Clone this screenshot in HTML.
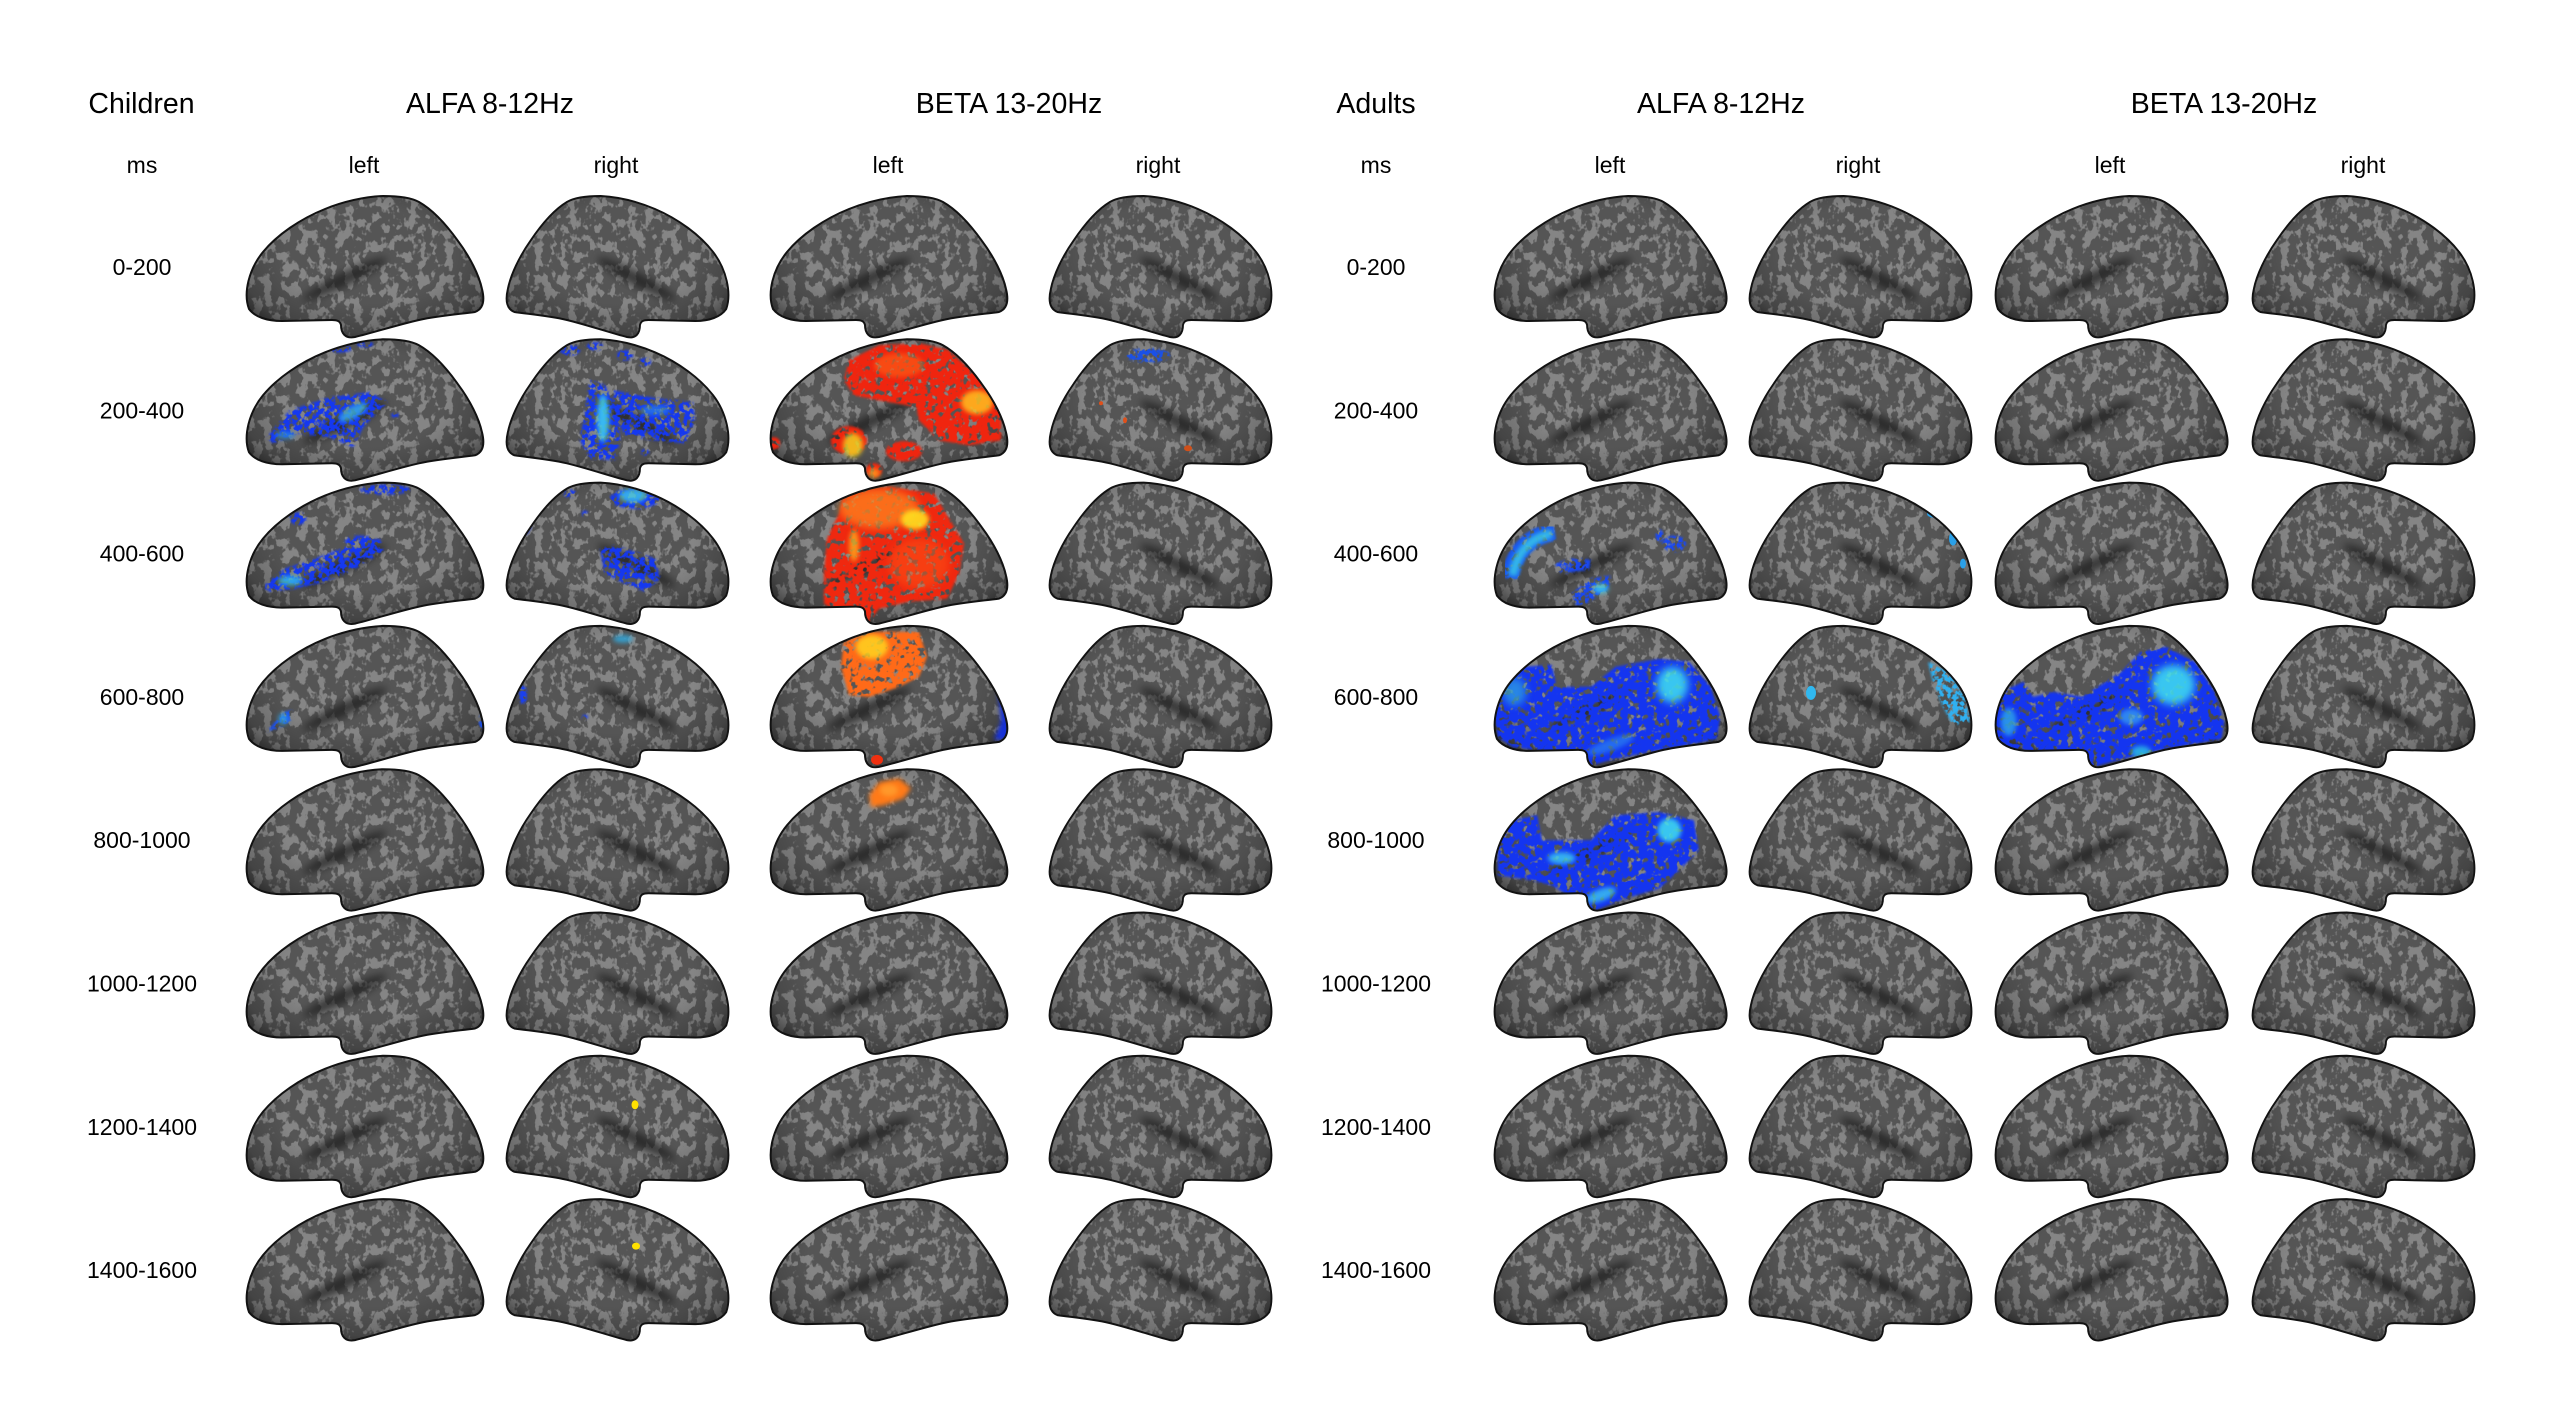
<!DOCTYPE html>
<html>
<head>
<meta charset="utf-8">
<style>
html,body{margin:0;padding:0;background:#fff;}
svg{display:block;}
text{font-family:"Liberation Sans",Arial,sans-serif;fill:#000;}
.h{font-size:28.5px;}
.s{font-size:23px;}
filter{color-interpolation-filters:sRGB;}
</style>
</head>
<body>
<svg width="2560" height="1401" viewBox="0 0 2560 1401" xmlns="http://www.w3.org/2000/svg">
<rect width="2560" height="1401" fill="#fff"/>
<defs>
  <path id="bp" d="M4,112 C-2,96 4,72 18,55 C32,38 55,22 80,12 C100,4 118,0 138,-1 C152,-1 165,0 174,5 C190,14 203,30 213,44 C225,60 234,78 237,92 C240,104 238,112 230,115 C217,117 197,118 174,123 C152,128 127,136 110,140 C100,142 96,136 96,128 C95,124 92,123 87,123 L37,124 C22,124 10,120 4,112 Z"/>
  <clipPath id="cL"><use href="#bp"/></clipPath>
  <clipPath id="cR"><use href="#bp" transform="translate(225,0) scale(-0.9375,1)"/></clipPath>
  <radialGradient id="shade" cx="0.5" cy="0.42" r="0.62">
    <stop offset="0.55" stop-color="#000" stop-opacity="0"/>
    <stop offset="0.88" stop-color="#000" stop-opacity="0.2"/>
    <stop offset="1" stop-color="#000" stop-opacity="0.45"/>
  </radialGradient>
  <filter id="tex" x="-5%" y="-5%" width="110%" height="110%" color-interpolation-filters="sRGB">
    <feTurbulence type="fractalNoise" baseFrequency="0.11 0.09" numOctaves="3" seed="4" result="t"/>
    <feColorMatrix in="t" type="matrix" values="0 0 0 0 0.52  0 0 0 0 0.52  0 0 0 0 0.52  12 0 0 0 -6.1" result="light"/>
    <feComposite in="light" in2="SourceAlpha" operator="in" result="li"/>
    <feMerge><feMergeNode in="SourceGraphic"/><feMergeNode in="li"/></feMerge>
  </filter>
  <filter id="bl4" x="-50%" y="-50%" width="200%" height="200%" color-interpolation-filters="sRGB"><feGaussianBlur stdDeviation="4"/></filter>
  <filter id="bl2" x="-50%" y="-50%" width="200%" height="200%" color-interpolation-filters="sRGB"><feGaussianBlur stdDeviation="2.5"/></filter>
  <filter id="sp" x="-10%" y="-10%" width="120%" height="120%" color-interpolation-filters="sRGB">
    <feGaussianBlur in="SourceGraphic" stdDeviation="1.2" result="b"/>
    <feTurbulence type="fractalNoise" baseFrequency="0.2" numOctaves="2" seed="7" result="t"/>
    <feColorMatrix in="t" type="matrix" values="0 0 0 0 0  0 0 0 0 0  0 0 0 0 0  7 0 0 0 -2.9" result="m"/>
    <feComposite in="b" in2="m" operator="in"/>
  </filter>
  <filter id="sp2" x="-10%" y="-10%" width="120%" height="120%" color-interpolation-filters="sRGB">
    <feGaussianBlur in="SourceGraphic" stdDeviation="1.2" result="b"/>
    <feTurbulence type="fractalNoise" baseFrequency="0.16" numOctaves="2" seed="11" result="t"/>
    <feColorMatrix in="t" type="matrix" values="0 0 0 0 0  0 0 0 0 0  0 0 0 0 0  7 0 0 0 -2.2" result="m"/>
    <feComposite in="b" in2="m" operator="in"/>
  </filter>
  <g id="Lb">
    <use href="#bp" fill="#555555" filter="url(#tex)"/>
    <ellipse cx="100" cy="82" rx="46" ry="7" transform="rotate(-26 100 82)" fill="#1a1a1a" opacity="0.7" filter="url(#bl4)"/>
    <use href="#bp" fill="url(#shade)"/>
  </g>
  <g id="Lo"><use href="#bp" fill="none" stroke="#121212" stroke-width="2"/></g>
  <g id="Rb"><use href="#Lb" transform="translate(225,0) scale(-0.9375,1)"/></g>
  <g id="Ro"><use href="#Lo" transform="translate(225,0) scale(-0.9375,1)"/></g>
</defs>

<!-- Headers -->
<text class="h" x="141.5" y="113" text-anchor="middle">Children</text>
<text class="h" x="490" y="113" text-anchor="middle">ALFA 8-12Hz</text>
<text class="h" x="1009" y="113" text-anchor="middle">BETA 13-20Hz</text>
<text class="h" x="1376" y="113" text-anchor="middle">Adults</text>
<text class="h" x="1721" y="113" text-anchor="middle">ALFA 8-12Hz</text>
<text class="h" x="2224" y="113" text-anchor="middle">BETA 13-20Hz</text>

<text class="s" x="142" y="173" text-anchor="middle">ms</text>
<text class="s" x="364" y="173" text-anchor="middle">left</text>
<text class="s" x="616" y="173" text-anchor="middle">right</text>
<text class="s" x="888" y="173" text-anchor="middle">left</text>
<text class="s" x="1158" y="173" text-anchor="middle">right</text>
<text class="s" x="1376" y="173" text-anchor="middle">ms</text>
<text class="s" x="1610" y="173" text-anchor="middle">left</text>
<text class="s" x="1858" y="173" text-anchor="middle">right</text>
<text class="s" x="2110" y="173" text-anchor="middle">left</text>
<text class="s" x="2363" y="173" text-anchor="middle">right</text>

<!-- Row labels -->
<g class="s" text-anchor="middle">
<text class="s" x="142" y="275">0-200</text>
<text class="s" x="142" y="418.3">200-400</text>
<text class="s" x="142" y="561.6">400-600</text>
<text class="s" x="142" y="704.9">600-800</text>
<text class="s" x="142" y="848.2">800-1000</text>
<text class="s" x="142" y="991.5">1000-1200</text>
<text class="s" x="142" y="1134.8">1200-1400</text>
<text class="s" x="142" y="1278.1">1400-1600</text>
<text class="s" x="1376" y="275">0-200</text>
<text class="s" x="1376" y="418.3">200-400</text>
<text class="s" x="1376" y="561.6">400-600</text>
<text class="s" x="1376" y="704.9">600-800</text>
<text class="s" x="1376" y="848.2">800-1000</text>
<text class="s" x="1376" y="991.5">1000-1200</text>
<text class="s" x="1376" y="1134.8">1200-1400</text>
<text class="s" x="1376" y="1278.1">1400-1600</text>
</g>

<!-- ============ CHILDREN ALFA LEFT (x=245) ============ -->
<g transform="translate(245,197)"><use href="#Lb"/><use href="#Lo"/></g>
<g transform="translate(245,340.3)"><use href="#Lb"/>
  <g clip-path="url(#cL)">
    <g filter="url(#sp)" fill="#1538f0">
      <polygon points="22,97 45,70 85,57 125,52 142,62 118,87 108,107 85,97 52,93 28,103"/>
      <ellipse cx="60" cy="12" rx="14" ry="5"/><ellipse cx="95" cy="8" rx="12" ry="4"/><ellipse cx="120" cy="4" rx="8" ry="3"/><ellipse cx="38" cy="30" rx="5" ry="3"/><ellipse cx="150" cy="75" rx="4" ry="2"/>
    </g>
    <ellipse cx="108" cy="72" rx="16" ry="6" transform="rotate(-30 108 72)" fill="#3ab0e0" opacity="0.8" filter="url(#bl2)"/>
    <ellipse cx="40" cy="95" rx="10" ry="4" fill="#2a90e8" opacity=".7" filter="url(#bl2)"/>
  </g><use href="#Lo"/></g>
<g transform="translate(245,483.6)"><use href="#Lb"/>
  <g clip-path="url(#cL)">
    <g filter="url(#sp)" fill="#1538f0">
      <polygon points="18,103 40,85 70,75 110,60 135,55 138,68 110,85 80,98 50,105 25,108"/>
      <ellipse cx="140" cy="6" rx="25" ry="5"/><ellipse cx="53" cy="35" rx="8" ry="6"/><ellipse cx="115" cy="58" rx="15" ry="6"/>
    </g>
    <ellipse cx="45" cy="97" rx="12" ry="5" fill="#35c0e8" opacity=".8" filter="url(#bl2)"/>
  </g><use href="#Lo"/></g>
<g transform="translate(245,626.9)"><use href="#Lb"/>
  <g clip-path="url(#cL)">
    <g filter="url(#sp)" fill="#1a50f0">
      <polygon points="22,105 30,95 40,85 47,83 45,95 35,100"/>
      <ellipse cx="238" cy="95" rx="4" ry="8"/>
    </g>
    <ellipse cx="38" cy="92" rx="5" ry="6" fill="#30a8e8" opacity=".7" filter="url(#bl2)"/>
  </g><use href="#Lo"/></g>
<g transform="translate(245,770.2)"><use href="#Lb"/><use href="#Lo"/></g>
<g transform="translate(245,913.5)"><use href="#Lb"/><use href="#Lo"/></g>
<g transform="translate(245,1056.8)"><use href="#Lb"/><use href="#Lo"/></g>
<g transform="translate(245,1200.1)"><use href="#Lb"/><use href="#Lo"/></g>

<!-- ============ CHILDREN ALFA RIGHT (x=505) ============ -->
<g transform="translate(505,197)"><use href="#Rb"/><use href="#Ro"/></g>
<g transform="translate(505,340.3)"><use href="#Rb"/>
  <g clip-path="url(#cR)">
    <g filter="url(#sp)" fill="#1538f0">
      <polygon points="85,40 100,45 112,70 115,100 110,120 85,118 75,100 80,70"/>
      <polygon points="108,50 150,58 188,62 190,80 180,103 150,100 120,95 110,75"/>
      <ellipse cx="65" cy="10" rx="10" ry="5"/><ellipse cx="90" cy="6" rx="8" ry="4"/><ellipse cx="120" cy="15" rx="8" ry="5"/><ellipse cx="140" cy="22" rx="6" ry="4"/><ellipse cx="20" cy="40" rx="5" ry="6"/><ellipse cx="140" cy="112" rx="4" ry="3"/>
    </g>
    <ellipse cx="98" cy="78" rx="6" ry="24" fill="#40d0f0" opacity=".85" filter="url(#bl2)"/>
    <ellipse cx="150" cy="70" rx="15" ry="5" fill="#3090e0" opacity=".6" filter="url(#bl2)"/>
  </g><use href="#Ro"/></g>
<g transform="translate(505,483.6)"><use href="#Rb"/>
  <g clip-path="url(#cR)">
    <g filter="url(#sp)" fill="#1538f0">
      <ellipse cx="130" cy="15" rx="25" ry="10"/>
      <polygon points="95,65 110,62 150,75 155,95 140,108 120,100 100,90"/>
      <ellipse cx="20" cy="42" rx="6" ry="9"/><ellipse cx="65" cy="10" rx="6" ry="4"/><ellipse cx="80" cy="30" rx="3" ry="3"/>
    </g>
    <ellipse cx="128" cy="12" rx="14" ry="7" fill="#40c8e8" opacity=".8" filter="url(#bl2)"/>
  </g><use href="#Ro"/></g>
<g transform="translate(505,626.9)"><use href="#Rb"/>
  <g clip-path="url(#cR)">
    <g filter="url(#sp)" fill="#1a40f0">
      <ellipse cx="18" cy="68" rx="4" ry="10"/><ellipse cx="80" cy="90" rx="3" ry="2"/><ellipse cx="215" cy="50" rx="4" ry="4"/>
    </g>
    <ellipse cx="118" cy="12" rx="10" ry="4" fill="#30b0e8" opacity=".8" filter="url(#bl2)"/>
  </g><use href="#Ro"/></g>
<g transform="translate(505,770.2)"><use href="#Rb"/><use href="#Ro"/></g>
<g transform="translate(505,913.5)"><use href="#Rb"/><use href="#Ro"/></g>
<g transform="translate(505,1056.8)"><use href="#Rb"/>
  <ellipse cx="130" cy="48" rx="3.5" ry="4.5" fill="#ffe000"/><use href="#Ro"/></g>
<g transform="translate(505,1200.1)"><use href="#Rb"/>
  <ellipse cx="131" cy="46" rx="4" ry="3.5" fill="#ffe000"/><use href="#Ro"/></g>

<!-- ============ CHILDREN BETA LEFT (x=769) ============ -->
<g transform="translate(769,197)"><use href="#Lb"/><use href="#Lo"/></g>
<g transform="translate(769,340.3)"><use href="#Lb"/>
  <g clip-path="url(#cL)">
    <g filter="url(#sp2)" fill="#f0250f">
      <polygon points="80,20 110,5 150,3 180,10 195,25 190,60 150,67 110,60 85,55 75,40"/>
      <polygon points="150,30 190,20 215,40 232,70 232,100 200,105 170,100 150,80 145,55"/>
      <ellipse cx="135" cy="111" rx="18" ry="10"/><ellipse cx="5" cy="103" rx="6" ry="6"/><ellipse cx="105" cy="130" rx="8" ry="7"/><ellipse cx="80" cy="100" rx="18" ry="14"/>
    </g>
    <ellipse cx="208" cy="62" rx="16" ry="12" fill="#ffc020" opacity=".85" filter="url(#bl2)"/>
    <ellipse cx="84" cy="105" rx="10" ry="12" fill="#f0d020" opacity=".85" filter="url(#bl2)"/>
    <ellipse cx="130" cy="25" rx="25" ry="12" fill="#ff6a18" opacity=".55" filter="url(#bl2)"/>
    <ellipse cx="105" cy="133" rx="6" ry="5" fill="#ffa020" opacity=".8" filter="url(#bl2)"/>
  </g><use href="#Lo"/></g>
<g transform="translate(769,483.6)"><use href="#Lb"/>
  <g clip-path="url(#cL)">
    <g filter="url(#sp2)" fill="#f0280f">
      <polygon points="75,8 120,3 165,10 180,35 195,60 190,90 178,115 140,118 110,125 100,138 80,135 55,120 55,90 58,55 70,30"/>
    </g>
    <ellipse cx="110" cy="25" rx="40" ry="20" fill="#ff8a20" opacity=".7" filter="url(#bl4)"/>
    <ellipse cx="150" cy="80" rx="30" ry="25" fill="#ff5a18" opacity=".45" filter="url(#bl4)"/>
    <ellipse cx="146" cy="36" rx="14" ry="10" fill="#ffe020" opacity=".9" filter="url(#bl2)"/>
    <ellipse cx="85" cy="62" rx="5" ry="16" fill="#ffc020" opacity=".7" filter="url(#bl2)"/>
    <ellipse cx="239" cy="75" rx="3" ry="6" fill="#1530e0"/>
  </g><use href="#Lo"/></g>
<g transform="translate(769,626.9)"><use href="#Lb"/>
  <g clip-path="url(#cL)">
    <g filter="url(#sp2)" fill="#ff6a18">
      <polygon points="75,15 100,5 150,5 158,30 150,50 130,60 100,70 80,68 72,40"/>
    </g>
    <ellipse cx="103" cy="20" rx="16" ry="12" fill="#ffd420" opacity=".85" filter="url(#bl2)"/>
    <polygon points="228,50 240,70 241,113 225,113 232,95" fill="#1530d8" filter="url(#bl2)"/>
    <ellipse cx="108" cy="133" rx="6" ry="5" fill="#f03010"/>
  </g><use href="#Lo"/></g>
<g transform="translate(769,770.2)"><use href="#Lb"/>
  <g clip-path="url(#cL)">
    <polygon points="100,25 110,12 130,8 142,18 135,28 115,35 102,37" fill="#ff7a18" filter="url(#bl2)"/>
    <ellipse cx="120" cy="20" rx="9" ry="6" fill="#ffa030" opacity=".8" filter="url(#bl2)"/>
  </g><use href="#Lo"/></g>
<g transform="translate(769,913.5)"><use href="#Lb"/><use href="#Lo"/></g>
<g transform="translate(769,1056.8)"><use href="#Lb"/><use href="#Lo"/></g>
<g transform="translate(769,1200.1)"><use href="#Lb"/><use href="#Lo"/></g>

<!-- ============ CHILDREN BETA RIGHT (x=1048) ============ -->
<g transform="translate(1048,197)"><use href="#Rb"/><use href="#Ro"/></g>
<g transform="translate(1048,340.3)"><use href="#Rb"/>
  <g clip-path="url(#cR)">
    <g filter="url(#sp)" fill="#1a50e8"><ellipse cx="100" cy="15" rx="22" ry="7"/></g>
    <ellipse cx="53" cy="63" rx="2" ry="2" fill="#e0501a"/>
    <ellipse cx="77" cy="80" rx="2" ry="3" fill="#e0501a"/>
    <ellipse cx="140" cy="108" rx="4" ry="3" fill="#d0501a"/>
  </g><use href="#Ro"/></g>
<g transform="translate(1048,483.6)"><use href="#Rb"/><use href="#Ro"/></g>
<g transform="translate(1048,626.9)"><use href="#Rb"/><use href="#Ro"/></g>
<g transform="translate(1048,770.2)"><use href="#Rb"/><use href="#Ro"/></g>
<g transform="translate(1048,913.5)"><use href="#Rb"/><use href="#Ro"/></g>
<g transform="translate(1048,1056.8)"><use href="#Rb"/><use href="#Ro"/></g>
<g transform="translate(1048,1200.1)"><use href="#Rb"/><use href="#Ro"/></g>

<!-- ============ ADULTS ALFA LEFT (x=1493) ============ -->
<g transform="translate(1493,197) scale(0.98,1)"><use href="#Lb"/><use href="#Lo"/></g>
<g transform="translate(1493,340.3) scale(0.98,1)"><use href="#Lb"/><use href="#Lo"/></g>
<g transform="translate(1493,483.6) scale(0.98,1)"><use href="#Lb"/>
  <g clip-path="url(#cL)">
    <path d="M63,48 C40,52 22,65 17,95" stroke="#1a58f0" stroke-width="18" fill="none" filter="url(#sp2)"/>
    <path d="M60,50 C40,54 25,66 20,92" stroke="#38c8e8" stroke-width="9" fill="none" opacity=".85" filter="url(#bl2)"/>
    <g filter="url(#sp)" fill="#1a48f0">
      <polygon points="63,80 80,75 100,76 98,86 70,90"/>
      <polygon points="80,110 100,95 120,92 118,105 95,120 85,122"/>
      <ellipse cx="185" cy="60" rx="12" ry="8"/><ellipse cx="170" cy="52" rx="4" ry="6"/>
    </g>
    <ellipse cx="110" cy="105" rx="8" ry="5" fill="#40d0e8" opacity=".8" filter="url(#bl2)"/>
  </g><use href="#Lo"/></g>
<g transform="translate(1493,626.9) scale(0.98,1)"><use href="#Lb"/>
  <g clip-path="url(#cL)">
    <g filter="url(#sp2)" fill="#1435f0">
      <polygon points="0,80 10,55 30,40 60,38 65,60 100,60 125,40 170,32 200,35 222,60 232,90 228,112 200,118 160,125 120,133 95,140 85,125 60,125 20,120 5,110"/>
    </g>
    <ellipse cx="183" cy="58" rx="16" ry="18" fill="#40e0f0" opacity=".85" filter="url(#bl4)"/>
    <ellipse cx="22" cy="65" rx="12" ry="14" fill="#30a8e0" opacity=".7" filter="url(#bl4)"/>
    <ellipse cx="120" cy="118" rx="25" ry="6" transform="rotate(-20 120 118)" fill="#3090f0" opacity=".6" filter="url(#bl2)"/>
  </g><use href="#Lo"/></g>
<g transform="translate(1493,770.2) scale(0.98,1)"><use href="#Lb"/>
  <g clip-path="url(#cL)">
    <g filter="url(#sp2)" fill="#1435f0">
      <polygon points="5,70 20,50 45,45 50,70 100,70 125,45 170,42 205,50 210,80 190,100 170,118 130,130 100,142 85,130 60,115 40,110 5,105"/>
    </g>
    <ellipse cx="180" cy="60" rx="12" ry="12" fill="#40e0f0" opacity=".85" filter="url(#bl2)"/>
    <ellipse cx="70" cy="88" rx="14" ry="6" fill="#40d8f0" opacity=".75" filter="url(#bl2)"/>
    <ellipse cx="110" cy="125" rx="16" ry="6" transform="rotate(-20 110 125)" fill="#40d0f0" opacity=".75" filter="url(#bl2)"/>
  </g><use href="#Lo"/></g>
<g transform="translate(1493,913.5) scale(0.98,1)"><use href="#Lb"/><use href="#Lo"/></g>
<g transform="translate(1493,1056.8) scale(0.98,1)"><use href="#Lb"/><use href="#Lo"/></g>
<g transform="translate(1493,1200.1) scale(0.98,1)"><use href="#Lb"/><use href="#Lo"/></g>

<!-- ============ ADULTS ALFA RIGHT (x=1748) ============ -->
<g transform="translate(1748,197)"><use href="#Rb"/><use href="#Ro"/></g>
<g transform="translate(1748,340.3)"><use href="#Rb"/><use href="#Ro"/></g>
<g transform="translate(1748,483.6)"><use href="#Rb"/>
  <g clip-path="url(#cR)" fill="#2aa0e8">
    <ellipse cx="185" cy="30" rx="6" ry="4"/><ellipse cx="205" cy="55" rx="4" ry="7"/><ellipse cx="215" cy="80" rx="3" ry="5"/>
  </g><use href="#Ro"/></g>
<g transform="translate(1748,626.9)"><use href="#Rb"/>
  <g clip-path="url(#cR)">
    <ellipse cx="63" cy="66" rx="5" ry="7" fill="#30b8f0"/>
    <g filter="url(#sp)" fill="#30b0f0"><polygon points="180,35 200,45 218,70 222,95 205,98 195,80 185,55"/></g>
  </g><use href="#Ro"/></g>
<g transform="translate(1748,770.2)"><use href="#Rb"/><use href="#Ro"/></g>
<g transform="translate(1748,913.5)"><use href="#Rb"/><use href="#Ro"/></g>
<g transform="translate(1748,1056.8)"><use href="#Rb"/><use href="#Ro"/></g>
<g transform="translate(1748,1200.1)"><use href="#Rb"/><use href="#Ro"/></g>

<!-- ============ ADULTS BETA LEFT (x=1994) ============ -->
<g transform="translate(1994,197) scale(0.98,1)"><use href="#Lb"/><use href="#Lo"/></g>
<g transform="translate(1994,340.3) scale(0.98,1)"><use href="#Lb"/><use href="#Lo"/></g>
<g transform="translate(1994,483.6) scale(0.98,1)"><use href="#Lb"/><use href="#Lo"/></g>
<g transform="translate(1994,626.9) scale(0.98,1)"><use href="#Lb"/>
  <g clip-path="url(#cL)">
    <g filter="url(#sp2)" fill="#1435f0">
      <polygon points="2,110 0,85 8,65 30,55 40,70 60,65 90,70 130,45 150,25 175,20 205,35 225,65 235,95 232,112 200,118 160,125 120,135 95,142 85,125 40,125 10,120"/>
    </g>
    <ellipse cx="183" cy="58" rx="22" ry="20" fill="#40e0f0" opacity=".85" filter="url(#bl4)"/>
    <ellipse cx="15" cy="95" rx="8" ry="14" fill="#30b0e8" opacity=".75" filter="url(#bl2)"/>
    <ellipse cx="150" cy="125" rx="10" ry="6" fill="#30d0e0" opacity=".75" filter="url(#bl2)"/>
    <ellipse cx="140" cy="90" rx="12" ry="8" fill="#3aa8f0" opacity=".7" filter="url(#bl2)"/>
  </g><use href="#Lo"/></g>
<g transform="translate(1994,770.2) scale(0.98,1)"><use href="#Lb"/><use href="#Lo"/></g>
<g transform="translate(1994,913.5) scale(0.98,1)"><use href="#Lb"/><use href="#Lo"/></g>
<g transform="translate(1994,1056.8) scale(0.98,1)"><use href="#Lb"/><use href="#Lo"/></g>
<g transform="translate(1994,1200.1) scale(0.98,1)"><use href="#Lb"/><use href="#Lo"/></g>

<!-- ============ ADULTS BETA RIGHT (x=2251) ============ -->
<g transform="translate(2251,197)"><use href="#Rb"/><use href="#Ro"/></g>
<g transform="translate(2251,340.3)"><use href="#Rb"/><use href="#Ro"/></g>
<g transform="translate(2251,483.6)"><use href="#Rb"/><use href="#Ro"/></g>
<g transform="translate(2251,626.9)"><use href="#Rb"/><use href="#Ro"/></g>
<g transform="translate(2251,770.2)"><use href="#Rb"/><use href="#Ro"/></g>
<g transform="translate(2251,913.5)"><use href="#Rb"/><use href="#Ro"/></g>
<g transform="translate(2251,1056.8)"><use href="#Rb"/><use href="#Ro"/></g>
<g transform="translate(2251,1200.1)"><use href="#Rb"/><use href="#Ro"/></g>
</svg>
</body>
</html>
